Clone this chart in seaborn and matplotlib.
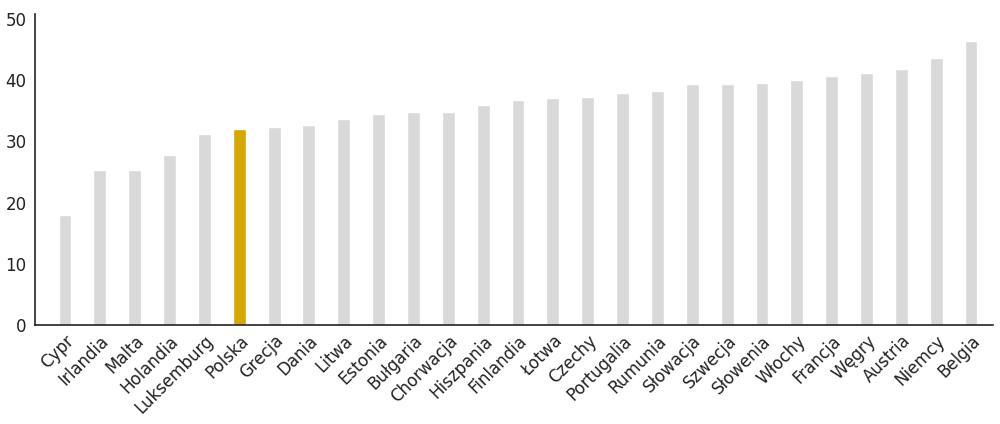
import matplotlib
matplotlib.use("Agg")
import matplotlib.pyplot as plt
import pandas as pd
import seaborn as sns

countries = ["Cypr", "Irlandia", "Malta", "Holandia", "Luksemburg", "Polska",
             "Grecja", "Dania", "Litwa", "Estonia", "Bułgaria", "Chorwacja",
             "Hiszpania", "Finlandia", "Łotwa", "Czechy", "Portugalia",
             "Rumunia", "Słowacja", "Szwecja", "Słowenia", "Włochy",
             "Francja", "Węgry", "Austria", "Niemcy", "Belgia"]
values = [18.0, 25.3, 25.3, 27.8, 31.2, 32.0, 32.4, 32.7, 33.7, 34.5, 34.8,
          34.8, 35.9, 36.8, 37.1, 37.3, 37.9, 38.2, 39.4, 39.4, 39.5, 40.0,
          40.7, 41.2, 41.8, 43.6, 46.4]
highlight = "Polska"

GREY = "#d9d9d9"
GOLD = "#d4a705"

df = pd.DataFrame({"kraj": countries, "wartosc": values})
palette = {c: (GOLD if c == highlight else GREY) for c in countries}

sns.set_style("white")
plt.rcParams["font.family"] = ["DejaVu Sans"]

fig = plt.figure(figsize=(10, 4.24), dpi=100)
ax = fig.add_axes([0.035, 0.2335, 0.958, 0.7335])
sns.barplot(data=df, x="kraj", y="wartosc", hue="kraj", palette=palette,
            width=0.37, legend=False, ax=ax, saturation=1)

ax.set_ylim(0, 50.8)
ax.set_xlim(-0.86, 26.63)
ax.set_yticks([0, 10, 20, 30, 40, 50])
ax.set_xlabel("")
ax.set_ylabel("")
for s in ("top", "right"):
    ax.spines[s].set_visible(False)
for s in ("left", "bottom"):
    ax.spines[s].set_color("#222222")
    ax.spines[s].set_linewidth(1.2)
ax.tick_params(axis="both", length=0, labelsize=12, colors="#222222")
ax.tick_params(axis="y", pad=6)
ax.tick_params(axis="x", pad=5)
plt.setp(ax.get_xticklabels(), rotation=45, ha="right",
         rotation_mode="anchor")

fig.savefig("out.png", dpi=100)
